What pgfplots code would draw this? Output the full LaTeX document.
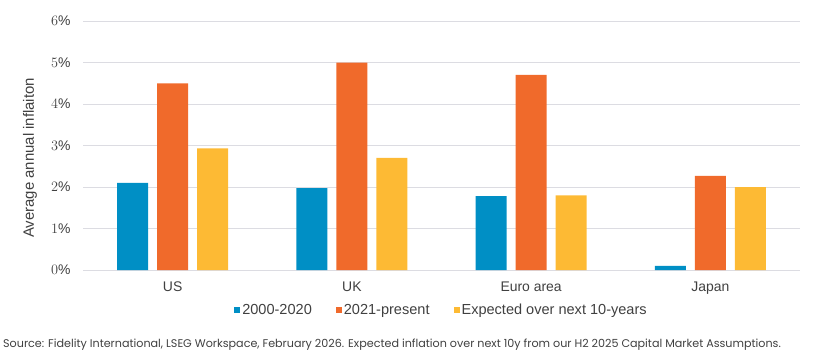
\documentclass[border=0pt]{standalone}
\usepackage{pgfplots}
\pgfplotsset{compat=1.18}
\usepackage{fontspec}
\setmainfont{Liberation Sans}
\newfontfamily\srcfont{Poppins}
\definecolor{cblue}{HTML}{008FC5}
\definecolor{corange}{HTML}{F06A2B}
\definecolor{cyellow}{HTML}{FDBA34}
\definecolor{cgrid}{HTML}{DCDCE2}
\definecolor{ctext}{HTML}{404040}
\begin{document}
\begin{tikzpicture}[x=1bp,y=1bp]
\useasboundingbox (-83,-85) rectangle (742,270);
\begin{axis}[
  at={(0,0)}, anchor=south west,
  scale only axis, width=717bp, height=249bp,
  ymin=0, ymax=6, xmin=-0.5, xmax=3.5,
  ybar=9bp, bar width=31bp,
  axis line style={draw=none},
  major tick length=0pt,
  ymajorgrids, grid style={cgrid, line width=1bp},
  ytick={0,1,2,3,4,5,6},
  yticklabel={\pgfmathprintnumber{\tick}\%},
  xtick={0,1,2,3},
  xticklabels={US,UK,Euro area,Japan},
  tick label style={font=\fontsize{14}{16}\selectfont, text=ctext},
  yticklabel style={xshift=-9bp},
  xticklabel style={yshift=-8bp},
  ylabel={Average annual inflaiton},
  ylabel style={at={(axis description cs:-0.074,0.45)}, anchor=center, font=\fontsize{15}{17}\selectfont, text=ctext},
  legend columns=3,
  legend style={at={(axis description cs:0.5,-0.161)}, anchor=center, draw=none, fill=none,
    font=\fontsize{14.6}{16}\selectfont, text=ctext,
    /tikz/every even column/.append style={column sep=22bp}},
  legend image code/.code={\fill (0bp,-3bp) rectangle (6bp,3bp);},
]
\addplot[fill=cblue, draw=none] coordinates {(0,2.10) (1,1.97) (2,1.78) (3,0.10)};
\addplot[fill=corange, draw=none] coordinates {(0,4.50) (1,5.00) (2,4.70) (3,2.27)};
\addplot[fill=cyellow, draw=none] coordinates {(0,2.93) (1,2.70) (2,1.80) (3,2.00)};
\legend{2000-2020,2021-present,Expected over next 10-years}
\end{axis}
\node[anchor=west, inner sep=0pt, text=ctext, font=\srcfont\fontsize{11.2}{13}\selectfont] at (-80,-75) {Source: Fidelity International, LSEG Workspace, February 2026. Expected inflation over next 10y from our H2 2025 Capital Market Assumptions.};
\end{tikzpicture}
\end{document}
